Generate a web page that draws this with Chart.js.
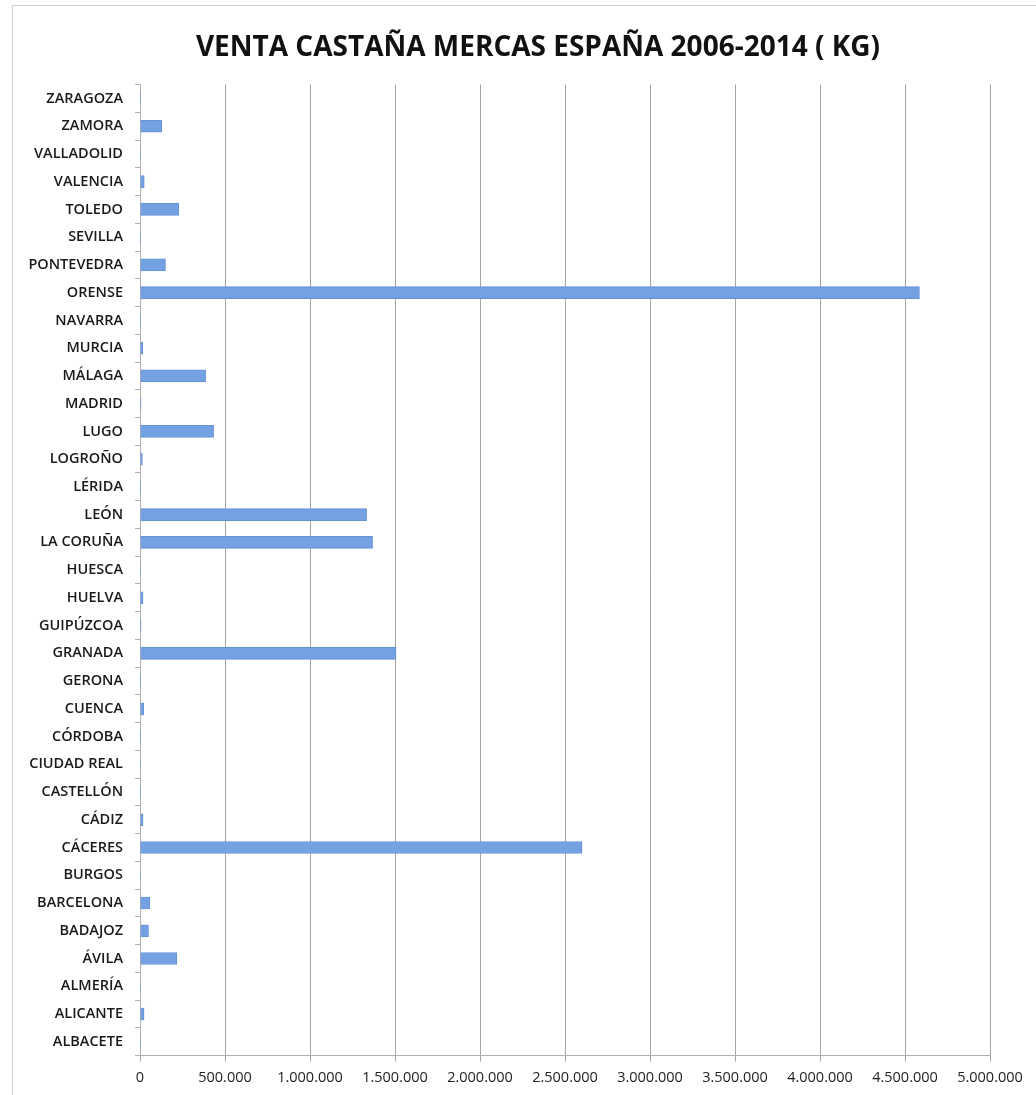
<!DOCTYPE html>
<html>
<head>
<meta charset="utf-8">
<script src="https://cdn.jsdelivr.net/npm/chart.js@4/dist/chart.umd.min.js"></script>
<style>
  html, body { margin: 0; padding: 0; background: #fff; }
  #wrap { position: absolute; left: 12px; top: 5px; width: 1030px; height: 1095px; border-left: 1px solid #cfcfcf; border-top: 1px solid #cfcfcf; box-sizing: border-box; }
  canvas { position: absolute; left: 0; top: 0; }
</style>
</head>
<body>
<div id="wrap"></div>
<canvas id="castana" width="1036" height="1095"></canvas>
<script>
// provinces, top to bottom as in the original chart
const provincias = ['ZARAGOZA', 'ZAMORA', 'VALLADOLID', 'VALENCIA', 'TOLEDO', 'SEVILLA', 'PONTEVEDRA',
    'ORENSE', 'NAVARRA', 'MURCIA', 'MÁLAGA', 'MADRID', 'LUGO', 'LOGROÑO', 'LÉRIDA', 'LEÓN',
    'LA CORUÑA', 'HUESCA', 'HUELVA', 'GUIPÚZCOA', 'GRANADA', 'GERONA', 'CUENCA', 'CÓRDOBA',
    'CIUDAD REAL', 'CASTELLÓN', 'CÁDIZ', 'CÁCERES', 'BURGOS', 'BARCELONA', 'BADAJOZ', 'ÁVILA',
    'ALMERÍA', 'ALICANTE', 'ALBACETE'];

// kg sold 2006-2014
const kilos = [2000, 128000, 3000, 25000, 228000, 4000, 150000,
    4585000, 2000, 16000, 386000, 6000, 433000, 14000, 2000, 1333000,
    1368000, 3000, 18000, 6000, 1506000, 2000, 22000, 4000,
    3000, 4000, 18000, 2600000, 3000, 58000, 50000, 216000,
    3000, 24000, 3000];

const xTicks = [0, 500000, 1000000, 1500000, 2000000, 2500000, 3000000, 3500000, 4000000, 4500000, 5000000];

function miles(v) {
    return String(v).replace(/\B(?=(\d{3})+(?!\d))/g, '.');
}

// the original title is centred a bit right of the canvas middle
const shiftTitle = {
    id: 'shiftTitle',
    afterLayout(chart) {
        if (chart.titleBlock) chart.titleBlock.left = 86;
    }
};

const ctx = document.getElementById('castana').getContext('2d');
new Chart(ctx, {
    type: 'bar',
    data: {
        labels: provincias,
        datasets: [{
            label: 'KG',
            data: kilos,
            backgroundColor: '#74a1e2',
            borderColor: '#6591d6',
            borderWidth: 1,
            barThickness: 12
        }]
    },
    plugins: [shiftTitle],
    options: {
        indexAxis: 'y',
        responsive: false,
        animation: false,
        layout: { padding: { left: 12, right: 46, top: 31, bottom: 0 } },
        plugins: {
            legend: { display: false },
            tooltip: { enabled: false },
            title: {
                display: true,
                text: 'VENTA CASTAÑA MERCAS ESPAÑA 2006-2014 ( KG)',
                color: '#111',
                font: { family: 'Open Sans', size: 28, weight: 'bold' },
                padding: { top: 0, bottom: 20 }
            }
        },
        scales: {
            x: {
                min: 0,
                max: 5000000,
                afterBuildTicks: (scale) => { scale.ticks = xTicks.map(v => ({ value: v })); },
                ticks: {
                    color: '#222',
                    font: { family: 'Open Sans', size: 14.5 },
                    maxRotation: 0,
                    autoSkip: false,
                    padding: 8,
                    callback: (v) => miles(v)
                },
                grid: { color: '#a4a4a4', tickLength: 6, lineWidth: 1 },
                border: { color: '#b0b0b0' }
            },
            y: {
                afterFit: (scale) => { scale.width = 128; },
                ticks: {
                    color: '#1a1a1a',
                    font: { family: 'Open Sans', size: 14.5, weight: '600' },
                    padding: 12,
                    autoSkip: false
                },
                grid: { drawOnChartArea: false, offset: true, tickLength: 5, color: '#b0b0b0' },
                border: { color: '#b0b0b0' }
            }
        }
    }
});
</script>
</body>
</html>
